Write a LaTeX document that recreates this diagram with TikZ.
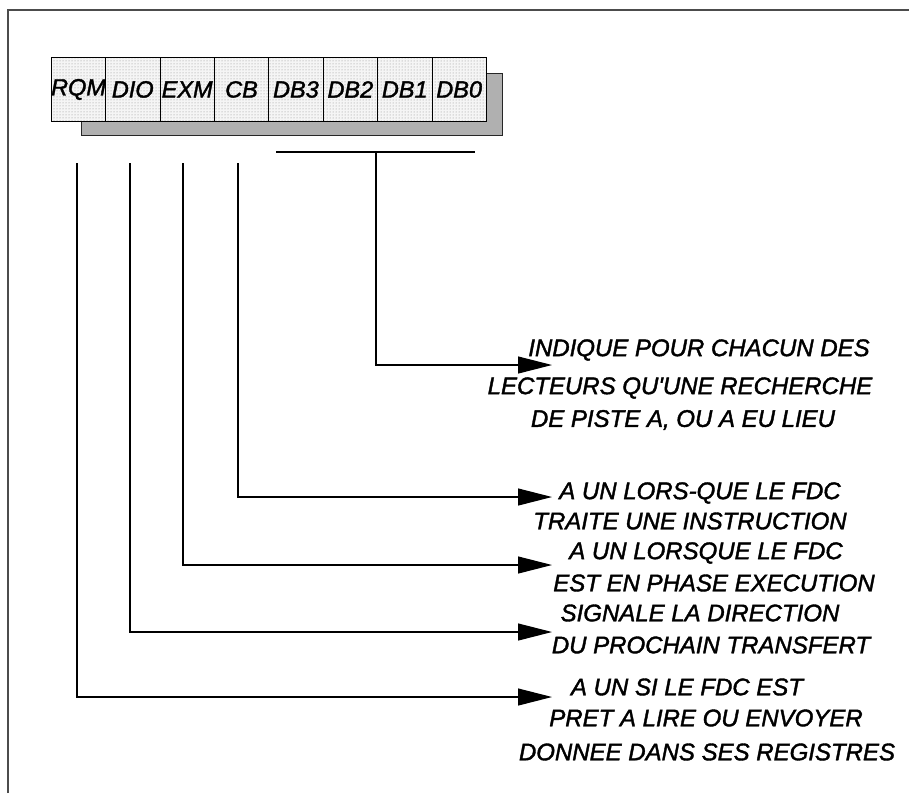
\documentclass[tikz,border=0pt]{standalone}
\usepackage{fontspec}
\setmainfont{Liberation Sans}
\newfontfamily\descfont[FakeBold=1.6]{Liberation Sans}
\usetikzlibrary{arrows.meta,patterns}
\begin{document}
\begin{tikzpicture}[x=1pt,y=-1pt,
  cell/.style={draw=black,line width=0.9pt,minimum width=54.4pt,minimum height=64pt,inner sep=0pt,anchor=north west,preaction={fill=gray!8},pattern=dots,pattern color=gray!90,font=\descfont\fontsize{23.5}{23.5}\selectfont\itshape},
  desc/.style={inner sep=0pt,font=\descfont\fontsize{24}{24}\selectfont\itshape},
  conn/.style={line width=1.1pt,draw=black},
  arr/.style={conn,-{Triangle[length=34pt,width=17pt]}},
  frame/.style={line width=1.5pt,draw=black!70}]
\useasboundingbox (0,0) rectangle (909,793);
% frame
\coordinate (fb) at (8,793);
\coordinate (fc) at (8,10);
\coordinate (fr) at (909,10);
\draw[frame] (fb) -- (fc) -- (fr);
% shadow
\fill[gray!62,draw=black!85,line width=0.9pt] (81,73) rectangle (502,135);
% register cells
\node[cell] (rqm) at (50.7,57) {RQM};
\node[cell] (dio) at (105.1,57) {DIO};
\node[cell] (exm) at (159.5,57) {EXM};
\node[cell] (cb)  at (213.9,57) {CB};
\node[cell] (db3) at (268.3,57) {DB3};
\node[cell] (db2) at (322.7,57) {DB2};
\node[cell] (db1) at (377.1,57) {DB1};
\node[cell] (db0) at (431.5,57) {DB0};
% bus bar under DB3..DB0
\coordinate (bl) at (276,152);
\coordinate (br) at (475,152);
\draw[conn] (bl) -- (br);
% connector start / end points
\coordinate (sD) at (376,152);
\coordinate (sC) at (238,163);
\coordinate (sE) at (183,163);
\coordinate (sI) at (130,163);
\coordinate (sR) at (77,163);
\coordinate (eD) at (552,365);
\coordinate (eC) at (552,497);
\coordinate (eE) at (552,565);
\coordinate (eI) at (552,632);
\coordinate (eR) at (552,697);
\draw[arr] (sD) |- (eD);
\draw[arr] (sC) |- (eC);
\draw[arr] (sE) |- (eE);
\draw[arr] (sI) |- (eI);
\draw[arr] (sR) |- (eR);
% descriptions
\node[desc] (d1) at (699,350) {INDIQUE POUR CHACUN DES};
\node[desc] (d2) at (680,388) {LECTEURS QU'UNE RECHERCHE};
\node[desc] (d3) at (683,420) {DE PISTE A, OU A EU LIEU};
\node[desc] (c1) at (700,493) {A UN LORS-QUE LE FDC};
\node[desc] (c2) at (690,521) {TRAITE UNE INSTRUCTION};
\node[desc] (e1) at (706,553) {A UN LORSQUE LE FDC};
\node[desc] (e2) at (714,583) {EST EN PHASE EXECUTION};
\node[desc] (i1) at (700,613) {SIGNALE LA DIRECTION};
\node[desc] (i2) at (711,645) {DU PROCHAIN TRANSFERT};
\node[desc] (r1) at (687,687) {A UN SI LE FDC EST};
\node[desc] (r2) at (706,718) {PRET A LIRE OU ENVOYER};
\node[desc] (r3) at (707,752) {DONNEE DANS SES REGISTRES};
\end{tikzpicture}
\end{document}
